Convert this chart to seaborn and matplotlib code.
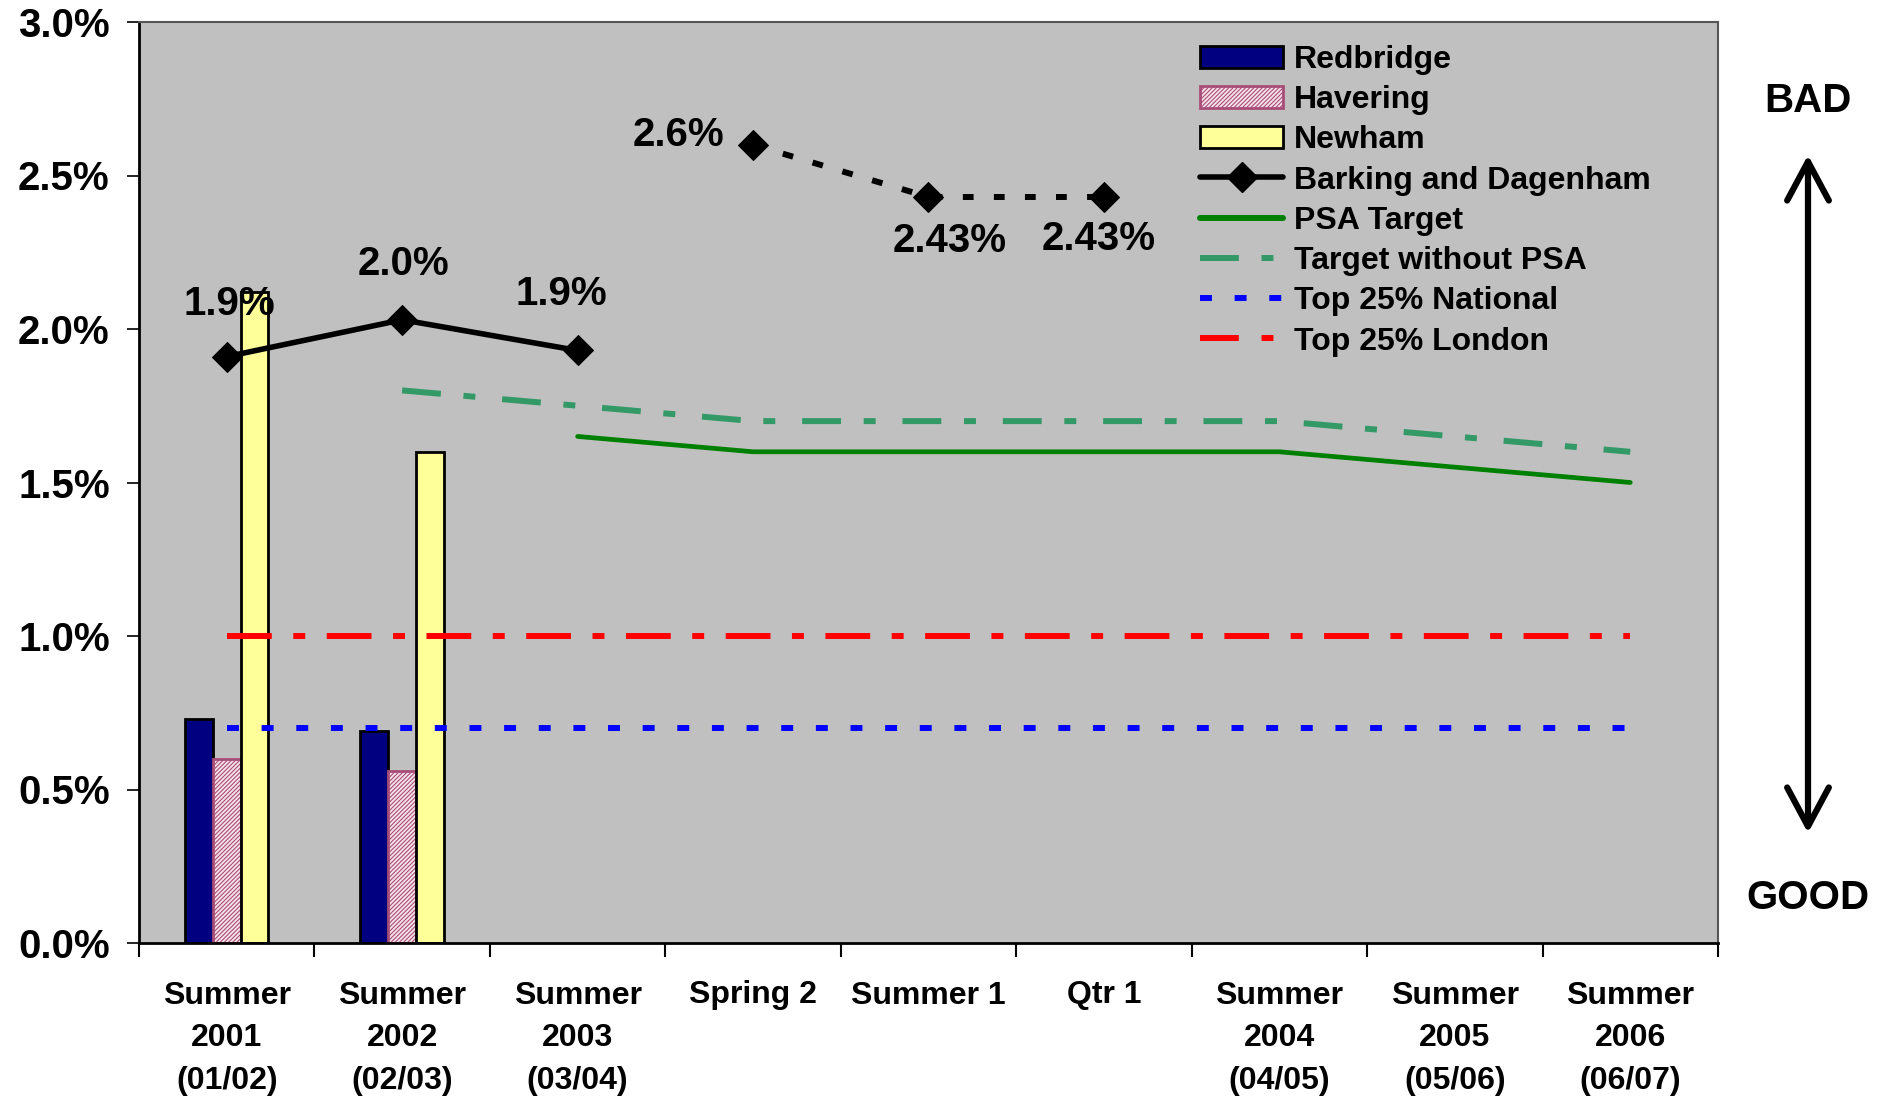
import numpy as np
import pandas as pd
import seaborn as sns
from matplotlib import pyplot as plt
from matplotlib.lines import Line2D
from matplotlib.patches import Patch
from matplotlib.ticker import FuncFormatter

# data (values in percent)
periods = [
    "Summer\n2001\n(01/02)",
    "Summer\n2002\n(02/03)",
    "Summer\n2003\n(03/04)",
    "Spring 2",
    "Summer 1",
    "Qtr 1",
    "Summer\n2004\n(04/05)",
    "Summer\n2005\n(05/06)",
    "Summer\n2006\n(06/07)",
]
boroughs = ["Redbridge", "Havering", "Newham"]
bar_periods = periods[:2]
redbridge = [0.73, 0.69]
havering = [0.60, 0.56]
newham = [2.12, 1.60]

barking_actual = [1.91, 2.03, 1.93]
barking_interim = [2.60, 2.43, 2.43]
barking_labels = ["1.9%", "2.0%", "1.9%", "2.6%", "2.43%", "2.43%"]
psa_target = [np.nan, np.nan, 1.65, 1.60, 1.60, 1.60, 1.60, 1.55, 1.50]
target_without_psa = [np.nan, 1.80, 1.75, 1.70, 1.70, 1.70, 1.70, 1.65, 1.60]
top25_national = [0.70] * 9
top25_london = [1.00] * 9

colors = {
    "Redbridge": "#000080",
    "Havering": "#F8E2EA",
    "Newham": "#FFFF99",
}
havering_hatch = "#A84D78"

sns.set_style("white")
plt.rcParams["font.family"] = ["Liberation Sans", "DejaVu Sans"]
plt.rcParams["font.weight"] = "bold"
plt.rcParams["hatch.linewidth"] = 0.8
for key in ["text.color", "xtick.color", "ytick.color", "axes.labelcolor"]:
    plt.rcParams[key] = "black"

fig = plt.figure(figsize=(18.9, 11), dpi=100)
ax = fig.add_axes([139 / 1890, 1 - 943 / 1100, (1718 - 139) / 1890, (943 - 22) / 1100])
ax.set_facecolor("#C0C0C0")

bars = pd.DataFrame({
    "period": np.repeat(bar_periods, 3),
    "borough": boroughs * 2,
    "value": [v for trio in zip(redbridge, havering, newham) for v in trio],
})
sns.barplot(
    data=bars, x="period", y="value", hue="borough", order=periods,
    hue_order=boroughs, palette=colors, width=0.475, edgecolor="black",
    linewidth=2, saturation=1, legend=False, ax=ax,
)
for bar in ax.containers[1]:
    bar.set_hatch("////////")
    bar.set_edgecolor(havering_hatch)

x = np.arange(len(periods))
tables = pd.DataFrame({
    "x": x,
    "psa": psa_target,
    "nopsa": target_without_psa,
    "national": top25_national,
    "london": top25_london,
})

sns.lineplot(data=tables, x="x", y="nopsa", color="#339966", lw=4.3,
             linestyle=(0, (6.5, 3.8, 2, 4.5)), errorbar=None, ax=ax)
sns.lineplot(data=tables, x="x", y="psa", color="#008000", lw=3.4,
             errorbar=None, ax=ax)
sns.lineplot(data=tables, x="x", y="national", color="#0000FF", lw=4.3,
             linestyle=(0, (2, 3.8)), errorbar=None, ax=ax)
sns.lineplot(data=tables, x="x", y="london", color="#FF0000", lw=4.3,
             linestyle=(0, (7.5, 3.6, 2, 3.6)), errorbar=None, ax=ax)
sns.lineplot(x=x[:3], y=barking_actual, color="black", lw=4, marker="D",
             markersize=15, markeredgecolor="black", errorbar=None, ax=ax)
sns.lineplot(x=x[3:6], y=barking_interim, color="black", lw=4.3,
             linestyle=(0, (1.8, 3.4)), marker="D", markersize=15,
             markeredgecolor="black", errorbar=None, ax=ax)

barking_all = barking_actual + barking_interim
label_offsets = [(2, 38), (1, 40), (-12, 41), (-54, 7), (15, -32), (-4, -30)]
for i, (lab, off) in enumerate(zip(barking_labels, label_offsets)):
    ax.annotate(lab, (x[i], barking_all[i]), xytext=off, textcoords="offset points",
                ha="center", va="center", fontsize=29, fontweight="bold")

ax.set_xlim(-0.5, len(periods) - 0.5)
ax.set_ylim(0, 3.0)
ax.set_yticks(np.arange(0, 3.01, 0.5))
ax.yaxis.set_major_formatter(FuncFormatter(lambda v, _: f"{v:.1f}%"))
ax.set_xticks(x)
ax.set_xticklabels(periods, fontsize=23, fontweight="bold", linespacing=1.55)
ax.set_xticks(np.arange(-0.5, len(periods)), minor=True)
ax.tick_params(axis="x", which="major", length=0, pad=27)
ax.tick_params(axis="x", which="minor", length=10, width=1.5, color="black",
               direction="out", bottom=True)
ax.tick_params(axis="y", length=9, width=1.2, color="black", direction="out",
               left=True, labelsize=29, pad=12)
for lab in ax.get_yticklabels():
    lab.set_fontweight("bold")
ax.set_xlabel("")
ax.set_ylabel("")

for side in ["left", "bottom"]:
    ax.spines[side].set_color("black")
    ax.spines[side].set_linewidth(2)
for side in ["top", "right"]:
    ax.spines[side].set_color("#555555")
    ax.spines[side].set_linewidth(1.5)

handles = [
    Patch(facecolor=colors["Redbridge"], edgecolor="black", lw=2),
    Patch(facecolor=colors["Havering"], edgecolor=havering_hatch, hatch="////////", lw=2),
    Patch(facecolor=colors["Newham"], edgecolor="black", lw=2),
    Line2D([], [], color="black", lw=4, marker="D", markersize=15),
    Line2D([], [], color="#008000", lw=4.3),
    Line2D([], [], color="#339966", lw=4.3, linestyle=(0, (6.5, 3.8, 2, 4.5))),
    Line2D([], [], color="#0000FF", lw=4.3, linestyle=(0, (2, 3.8))),
    Line2D([], [], color="#FF0000", lw=4.3, linestyle=(0, (6.5, 3.8, 2, 4.5))),
]
labels = ["Redbridge", "Havering", "Newham", "Barking and Dagenham", "PSA Target",
          "Target without PSA", "Top 25% National", "Top 25% London"]
ax.legend(handles, labels, loc="upper left", bbox_to_anchor=(1200 / 1890, 1 - 45 / 1100),
          bbox_transform=fig.transFigure, frameon=False, numpoints=1,
          handlelength=2.6, handletextpad=0.35, labelspacing=0.32, borderpad=0,
          borderaxespad=0, prop={"weight": "bold", "size": 23})

fig.text(1808 / 1890, 1 - 101 / 1100, "BAD", ha="center", va="center",
         fontsize=29, fontweight="bold")
fig.text(1808 / 1890, 1 - 898 / 1100, "GOOD", ha="center", va="center",
         fontsize=29, fontweight="bold")
ax.annotate("", xy=(1808 / 1890, 1 - 155 / 1100), xytext=(1808 / 1890, 1 - 833 / 1100),
            xycoords="figure fraction", textcoords="figure fraction",
            arrowprops=dict(arrowstyle="<->,head_length=1.4,head_width=0.75",
                            mutation_scale=20, lw=4.5, color="black",
                            shrinkA=0, shrinkB=0, capstyle="round",
                            joinstyle="round"))

fig.savefig("out.png", dpi=100, facecolor="white")
